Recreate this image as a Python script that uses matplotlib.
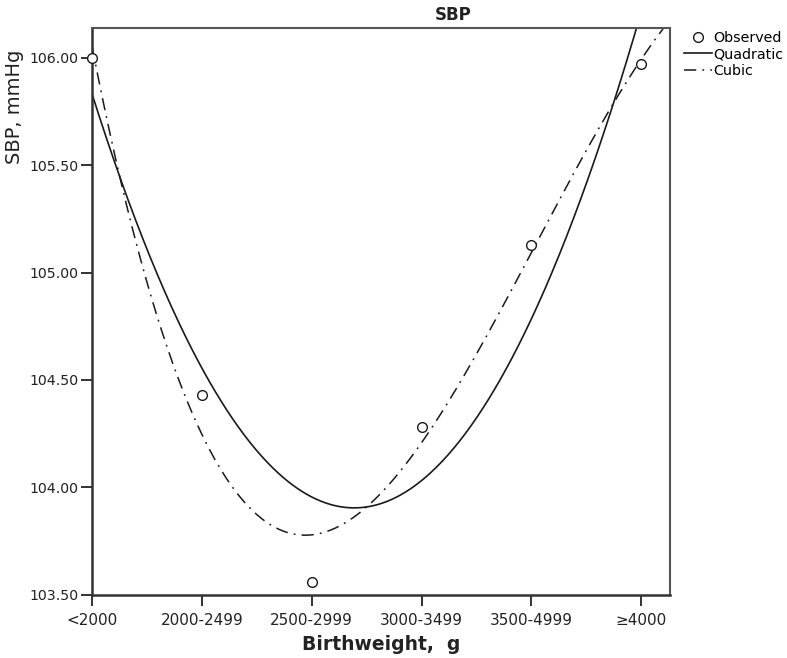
import numpy as np
import matplotlib
matplotlib.use("Agg")
import matplotlib.pyplot as plt

# ==========================================
# DATA (group means)
# ==========================================
categories = ["<2000", "2000-2499", "2500-2999", "3000-3499", "3500-4999", "\u22654000"]
group_pos = [1, 2, 3, 4, 5, 6]
sbp_observed = [106.00, 104.43, 103.56, 104.28, 105.13, 105.97]
y_ticks = [103.50, 104.00, 104.50, 105.00, 105.50, 106.00]

# curve estimation fits on the observed means
quad_coef = np.polyfit(group_pos, sbp_observed, 2)
cubic_coef = np.polyfit(group_pos, sbp_observed, 3)

fig = plt.figure(figsize=(7.87, 6.58), dpi=100)
ax = fig.add_axes([0.117, 0.096, 0.734, 0.862])

x_min, x_max = 1.0, 6.26
xs = np.linspace(x_min, x_max, 400)

ax.plot(xs, np.polyval(quad_coef, xs), color="#1a1a1a", lw=1.2, label="Quadratic")
ax.plot(xs, np.polyval(cubic_coef, xs), color="#1a1a1a", lw=1.1,
        dashes=(8, 4, 1.2, 4), label="Cubic")
ax.plot(group_pos, sbp_observed, "o", ms=7, mfc="white", mec="#1a1a1a", mew=1.0,
        label="Observed", clip_on=False, zorder=5)

ax.set_xlim(x_min, x_max)
ax.set_ylim(103.5, 106.14)
ax.set_xticks(group_pos)
ax.set_xticklabels(categories)
ax.set_yticks(y_ticks)
ax.set_yticklabels([f"{v:.2f}" for v in y_ticks])
ax.tick_params(axis="both", direction="out", length=8, width=1.3,
               colors="#222222")
ax.tick_params(axis="x", pad=5, labelsize=11)
ax.tick_params(axis="y", pad=2, labelsize=10.2)

for side in ["left", "bottom"]:
    ax.spines[side].set_linewidth(1.8)
    ax.spines[side].set_color("#333333")
for side in ["top", "right"]:
    ax.spines[side].set_linewidth(1.5)
    ax.spines[side].set_color("#555555")

ax.set_xlabel("Birthweight,  g", fontsize=13.5, fontweight="bold", color="#222222")
ax.xaxis.set_label_coords(0.5, -0.07)
ax.set_ylabel("SBP, mmHg", fontsize=14, color="#222222")
ax.yaxis.set_label_coords(-0.117, 0.86)

fig.text(0.576, 0.977, "SBP", ha="center", va="center", fontsize=12,
         fontweight="bold", color="#222222")

# legend order as in the chart
handles, labels = ax.get_legend_handles_labels()
order = [2, 0, 1]
ax.legend([handles[i] for i in order], [labels[i] for i in order],
          loc="upper left", bbox_to_anchor=(1.014, 1.005), frameon=False,
          fontsize=10.3, handlelength=2.0, handletextpad=0.1, labelspacing=0.2,
          borderaxespad=0.0)

fig.savefig("out.png", dpi=100)
